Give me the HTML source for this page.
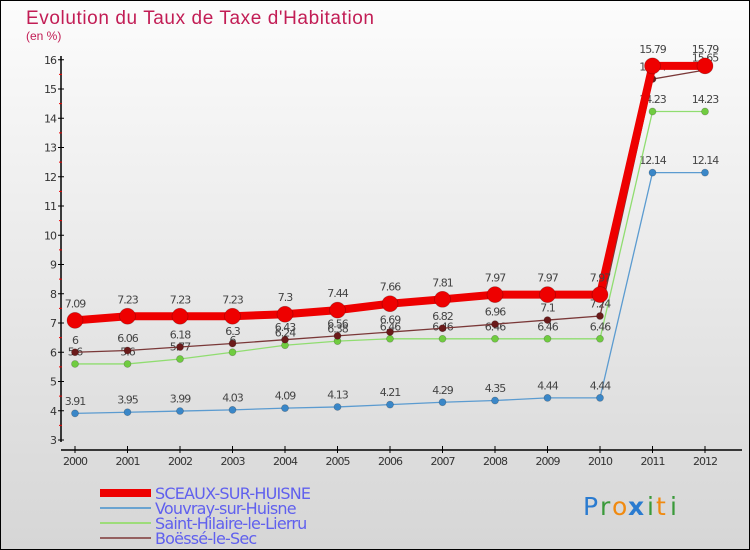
<!DOCTYPE html>
<html><head><meta charset="utf-8"><style>
body{margin:0}
#c{width:750px;height:550px;position:relative;box-sizing:border-box;border:1px solid #000;background:linear-gradient(#fcfcfc,#d6d6d6);font-family:"DejaVu Sans","Liberation Sans",sans-serif;overflow:hidden}
</style></head><body>
<div id="c">
<svg id="s" width="750" height="550" style="position:absolute;left:-1px;top:-1px">
<text x="26" y="24" font-size="19" fill="#c21d55" font-family="Liberation Sans, sans-serif" textLength="348">Evolution du Taux de Taxe d'Habitation</text>
<text x="26" y="40" font-size="12" fill="#c21d55" font-family="Liberation Sans, sans-serif">(en %)</text>
<g id="axes"></g><g id="series"></g><g id="legend"></g>
<g font-size="25" font-family="DejaVu Sans, sans-serif">
<text x="583" y="515" fill="#2a7bd0">P</text><text x="600" y="515" fill="#3a9a3a">r</text><text x="612" y="515" fill="#f08a10">o</text><text x="628" y="515" fill="#2a7bd0" font-weight="bold">x</text><text x="647" y="515" fill="#3a9a3a">i</text><text x="656" y="515" fill="#f08a10">t</text><text x="670" y="515" fill="#3a9a3a">i</text>
</g>
</svg>
</div>
<script>
const years=[2000,2001,2002,2003,2004,2005,2006,2007,2008,2009,2010,2011,2012];
const sceaux=[7.09,7.23,7.23,7.23,7.3,7.44,7.66,7.81,7.97,7.97,7.97,15.79,15.79];
const vouvray=[3.91,3.95,3.99,4.03,4.09,4.13,4.21,4.29,4.35,4.44,4.44,12.14,12.14];
const hilaire=[5.6,5.6,5.77,6,6.24,6.38,6.46,6.46,6.46,6.46,6.46,14.23,14.23];
const boesse=[6,6.06,6.18,6.3,6.43,6.56,6.69,6.82,6.96,7.1,7.24,15.34,15.65];
const yTicks=[3,4,5,6,7,8,9,10,11,12,13,14,15,16];
const names=["SCEAUX-SUR-HUISNE","Vouvray-sur-Huisne","Saint-Hilaire-le-Lierru","Boëssé-le-Sec"];
const NS="http://www.w3.org/2000/svg";
const X=i=>75+i*52.5;
const Y=v=>440-(v-3)*29.25;
function mk(t,a,p){const e=document.createElementNS(NS,t);for(const k in a)e.setAttribute(k,a[k]);p.appendChild(e);return e;}
const ax=document.getElementById('axes');
let e=mk('line',{x1:61,y1:56,x2:61,y2:442,stroke:'#000','stroke-width':1.5},ax);


e=mk('line',{x1:61,y1:450,x2:742,y2:450,stroke:'#000','stroke-width':1.5},ax);


yTicks.forEach(v=>{
 mk('line',{x1:58,y1:Y(v),x2:64,y2:Y(v),stroke:'#000'},ax);
 if(v<16)mk('line',{x1:59,y1:Y(v+0.5),x2:62,y2:Y(v+0.5),stroke:'#e00'},ax);
 const t=mk('text',{x:56,y:Y(v)+4,'font-size':11,fill:'#333','text-anchor':'end','letter-spacing':'-1'},ax);t.textContent=v;
 
 
});
years.forEach((y,i)=>{
 mk('line',{x1:X(i),y1:446,x2:X(i),y2:453,stroke:'#000'},ax);
 const t=mk('text',{x:X(i),y:465,'font-size':11,fill:'#333','text-anchor':'middle','letter-spacing':'-1'},ax);t.textContent=y;
 
 
});
const sg=document.getElementById('series');
const defs=[[vouvray,'#5b9bd0','#3a87c8',1.3,3.5,'vouvray'],[hilaire,'#90dd70','#70cc40',1.3,3.5,'hilaire'],[boesse,'#7a3838','#6b1a1a',1.3,3.5,'boesse'],[sceaux,'#ee0000','#ee0000',8,8,'sceaux']];
defs.forEach(([d,lc,pc,w,r,n])=>{
 const g=mk('g',{},sg);
 
 
 const p=mk('polyline',{points:d.map((v,i)=>X(i)+','+Y(v)).join(' '),fill:'none',stroke:lc,'stroke-width':w},g);
 
 
 d.forEach((v,i)=>{
  const c=mk('circle',{cx:X(i),cy:Y(v),r:r,fill:pc,stroke:'rgba(0,0,0,0.25)','stroke-width':0.7},g);
  
  
  const t=mk('text',{x:X(i),y:Y(v)-(r+5),'font-size':11,fill:'#444','text-anchor':'middle','letter-spacing':'-1'},g);t.textContent=v;
  
  
 });
});
const lg=document.getElementById('legend');
const lcol=['#ee0000','#6aa3d0','#9ddc7a','#946060'],lw=[8,2,2,2];
names.forEach((n,k)=>{
 const y=493+k*15;
 const l=mk('line',{x1:100,y1:y,x2:151,y2:y,stroke:lcol[k],'stroke-width':lw[k]},lg);
 
 
 const t=mk('text',{x:155,y:y+6,'font-size':16,fill:'#6060ee','letter-spacing':'-0.8'},lg);t.textContent=n;
 
 
});
</script>
</body></html>
